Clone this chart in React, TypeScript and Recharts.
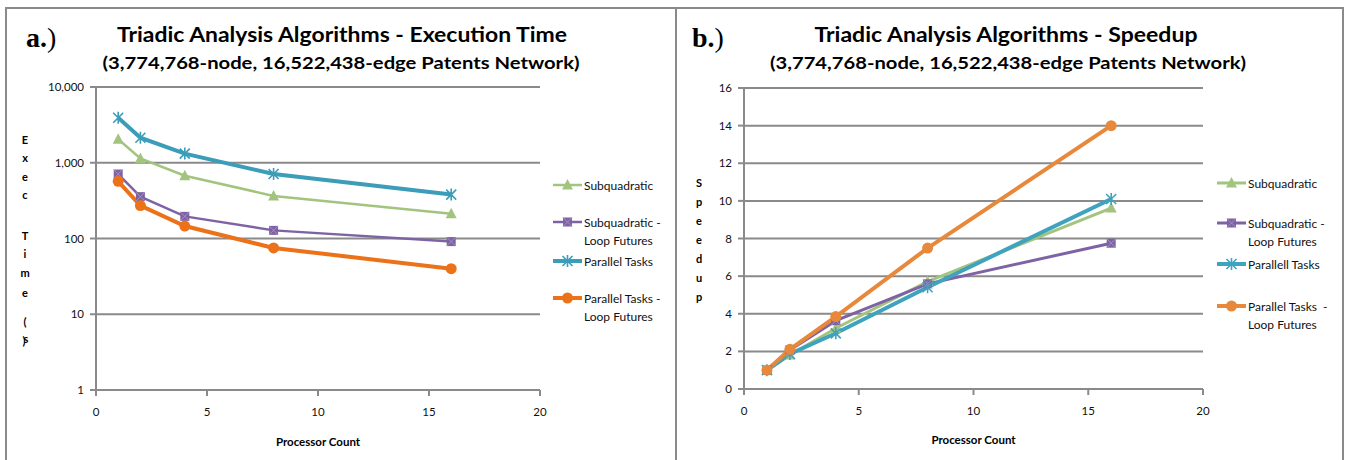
import React from 'react';
import { LineChart, Line, XAxis, YAxis, CartesianGrid } from 'recharts';

// processor counts on the x axis
const processors = [1, 2, 4, 8, 16];

// execution time in seconds (panel a, log scale)
const timeSubquadratic = [2040, 1140, 675, 365, 212];
const timeSubquadraticLF = [710, 357, 196, 128, 91];
const timeParallel = [3920, 2140, 1320, 710, 380];
const timeParallelLF = [568, 272, 146, 75, 40];

// speedup (panel b)
const speedSubquadratic = [1, 1.81, 3.23, 5.71, 9.62];
const speedSubquadraticLF = [1, 2.07, 3.63, 5.59, 7.75];
const speedParallel = [1, 1.86, 2.96, 5.41, 10.1];
const speedParallelLF = [1, 2.11, 3.85, 7.49, 14.0];

const xTicks = [0, 5, 10, 15, 20];
const timeTicks = [1, 10, 100, 1000, 10000];
const speedTicks = [0, 2, 4, 6, 8, 10, 12, 14, 16];

const legendA = [['Subquadratic'], ['Subquadratic -', 'Loop Futures'], ['Parallel Tasks'], ['Parallel Tasks -', 'Loop Futures']];
const legendB = [['Subquadratic'], ['Subquadratic -', 'Loop Futures'], ['Parallell Tasks'], ['Parallel Tasks  -', 'Loop Futures']];

const timeRows = processors.map((p, i) => ({
  p,
  sub: timeSubquadratic[i],
  subLF: timeSubquadraticLF[i],
  par: timeParallel[i],
  parLF: timeParallelLF[i],
}));

const speedRows = processors.map((p, i) => ({
  p,
  sub: speedSubquadratic[i],
  subLF: speedSubquadraticLF[i],
  par: speedParallel[i],
  parLF: speedParallelLF[i],
}));

const GRID = '#8a8a8a';
const FONT = 'Lato, "Liberation Sans", sans-serif';

type Kind = 'triangle' | 'square' | 'star' | 'circle';

const styleA = [
  { key: 'sub', kind: 'triangle' as Kind, color: '#A3C47E', width: 2.5 },
  { key: 'subLF', kind: 'square' as Kind, color: '#7E63A4', width: 2.5 },
  { key: 'par', kind: 'star' as Kind, color: '#3B9DB8', width: 4 },
  { key: 'parLF', kind: 'circle' as Kind, color: '#EC7219', width: 4 },
];

const styleB = [
  { key: 'sub', kind: 'triangle' as Kind, color: '#A3C47E', width: 3 },
  { key: 'subLF', kind: 'square' as Kind, color: '#7E63A4', width: 3 },
  { key: 'par', kind: 'star' as Kind, color: '#3FA3BE', width: 4 },
  { key: 'parLF', kind: 'circle' as Kind, color: '#E8883A', width: 4 },
];

function Marker({ kind, cx, cy, color }: { kind: Kind; cx: number; cy: number; color: string }) {
  if (cx == null || cy == null) return <g />;
  if (kind === 'triangle') {
    return <polygon points={`${cx},${cy - 6} ${cx - 5.5},${cy + 4.5} ${cx + 5.5},${cy + 4.5}`} fill={color} />;
  }
  if (kind === 'square') {
    return (
      <g>
        <rect x={cx - 4.5} y={cy - 4.5} width={9} height={9} fill={color} />
        <path d={`M${cx - 4.5},${cy - 4.5}L${cx + 4.5},${cy + 4.5}M${cx - 4.5},${cy + 4.5}L${cx + 4.5},${cy - 4.5}`} stroke="#A48FC4" strokeWidth={1} />
      </g>
    );
  }
  if (kind === 'star') {
    return (
      <path
        d={`M${cx - 5},${cy - 5}L${cx + 5},${cy + 5}M${cx - 5},${cy + 5}L${cx + 5},${cy - 5}M${cx},${cy - 6}L${cx},${cy + 6}`}
        stroke={color}
        strokeWidth={1.6}
        fill="none"
      />
    );
  }
  return <circle cx={cx} cy={cy} r={5.5} fill={color} />;
}

const makeDot = (kind: Kind, color: string) => (props: any) => (
  <Marker key={`d-${props.index}`} kind={kind} cx={props.cx} cy={props.cy} color={color} />
);

function StackedLetters({ x, items }: { x: number; items: [string, number, number?][] }) {
  return (
    <g>
      {items.map(([ch, y, dx], i) => (
        <text key={i} x={x + (dx || 0)} y={y} textAnchor="middle" dominantBaseline="central" fontFamily={FONT} fontWeight="bold" fontSize={11} fill="#000">
          {ch}
        </text>
      ))}
    </g>
  );
}

const axisProps = {
  stroke: GRID,
  strokeWidth: 2,
  tickLine: { stroke: GRID, strokeWidth: 2 },
  tick: { fill: '#111', fontSize: 11.5, fontFamily: FONT },
  tickSize: 6,
};

function xTitle(yPos: number) {
  return (props: any) => {
    const vb = props.viewBox;
    return (
      <text x={vb.x + vb.width / 2} y={yPos} textAnchor="middle" dominantBaseline="central" fontFamily={FONT} fontWeight="bold" fontSize={11.5} fill="#000">
        Processor Count
      </text>
    );
  };
}

function Legend({ x, items, series, ys }: { x: number; items: string[][]; series: typeof styleA; ys: number[] }) {
  return (
    <g>
      {items.map((lines, i) => {
        const s = series[i];
        const y = ys[i];
        return (
          <g key={i}>
            <line x1={x} x2={x + 29} y1={y} y2={y} stroke={s.color} strokeWidth={s.width} />
            <Marker kind={s.kind} cx={x + 14.5} cy={y} color={s.color} />
            {lines.map((t, j) => (
              <text key={j} x={x + 31} y={y + j * 18} dominantBaseline="central" fontFamily={FONT} fontSize={12} fill="#111" style={{ whiteSpace: 'pre' }}>
                {t}
              </text>
            ))}
          </g>
        );
      })}
    </g>
  );
}

export default function App() {
  return (
    <div style={{ position: 'absolute', left: 0, top: 0, width: 1346, height: 460, background: '#fff', overflow: 'hidden' }}>
      <div style={{ position: 'absolute', left: 0, top: 0 }}>
        <LineChart width={680} height={460} data={timeRows} margin={{ top: 87, right: 140, bottom: 40, left: 56 }}>
          <CartesianGrid vertical={false} stroke={GRID} strokeWidth={2} />
          <XAxis
            dataKey="p"
            type="number"
            domain={[0, 20]}
            ticks={xTicks}
            height={30}
            tickMargin={12}
            {...axisProps}
            label={{ content: xTitle(441) }}
          />
          <YAxis
            scale="log"
            domain={[1, 10000]}
            ticks={timeTicks}
            allowDataOverflow
            width={40}
            tickMargin={6}
            tickFormatter={(v: number) => v.toLocaleString('en-US')}
            {...axisProps}
          />
          {styleA.map((s) => (
            <Line
              key={s.key}
              dataKey={s.key}
              stroke={s.color}
              strokeWidth={s.width}
              dot={makeDot(s.kind, s.color)}
              activeDot={false}
              isAnimationActive={false}
            />
          ))}
        </LineChart>
      </div>
      <div style={{ position: 'absolute', left: 680, top: 0 }}>
        <LineChart width={666} height={460} data={speedRows} margin={{ top: 88, right: 143, bottom: 41, left: 34 }}>
          <CartesianGrid vertical={false} stroke={GRID} strokeWidth={2} />
          <XAxis
            dataKey="p"
            type="number"
            domain={[0, 20]}
            ticks={xTicks}
            height={30}
            tickMargin={12}
            {...axisProps}
            label={{ content: xTitle(439) }}
          />
          <YAxis domain={[0, 16]} ticks={speedTicks} width={30} tickMargin={6} {...axisProps} />
          {styleB.map((s) => (
            <Line
              key={s.key}
              dataKey={s.key}
              stroke={s.color}
              strokeWidth={s.width}
              dot={makeDot(s.kind, s.color)}
              activeDot={false}
              isAnimationActive={false}
            />
          ))}
        </LineChart>
      </div>
      <svg width={1346} height={460} style={{ position: 'absolute', left: 0, top: 0, pointerEvents: 'none' }}>
        <path d="M6,470V8H1343V470M676,8V470" stroke="#8a8a8a" strokeWidth={2} fill="none" />
        <text x={26} y={47} fontFamily='"Liberation Serif", serif' fontSize={28} fill="#000">
          <tspan fontWeight="bold">a.</tspan>
          <tspan>)</tspan>
        </text>
        <text x={692} y={47} fontFamily='"Liberation Serif", serif' fontSize={28} fill="#000">
          <tspan fontWeight="bold">b.</tspan>
          <tspan>)</tspan>
        </text>
        <text x={342} y={42} textAnchor="middle" fontFamily={FONT} fontWeight="bold" fontSize={20} textLength={450} lengthAdjust="spacingAndGlyphs">
          Triadic Analysis Algorithms - Execution Time
        </text>
        <text x={341} y={69} textAnchor="middle" fontFamily={FONT} fontWeight="bold" fontSize={17} textLength={477} lengthAdjust="spacingAndGlyphs">
          (3,774,768-node, 16,522,438-edge Patents Network)
        </text>
        <text x={1006} y={42} textAnchor="middle" fontFamily={FONT} fontWeight="bold" fontSize={20} textLength={383} lengthAdjust="spacingAndGlyphs">
          Triadic Analysis Algorithms - Speedup
        </text>
        <text x={1008} y={69} textAnchor="middle" fontFamily={FONT} fontWeight="bold" fontSize={17} textLength={476} lengthAdjust="spacingAndGlyphs">
          (3,774,768-node, 16,522,438-edge Patents Network)
        </text>
        <StackedLetters
          x={25}
          items={[
            ['E', 139], ['x', 157], ['e', 176], ['c', 194],
            ['T', 235], ['i', 253], ['m', 272], ['e', 292],
            ['(', 321], ['s', 338, 1], [')', 340, -1],
          ]}
        />
        <StackedLetters
          x={699}
          items={[['S', 182], ['p', 201], ['e', 220], ['e', 239], ['d', 258], ['u', 277], ['p', 296]]}
        />
        <Legend x={553} items={legendA} series={styleA} ys={[185, 222, 261, 298]} />
        <Legend x={1217} items={legendB} series={styleB} ys={[183, 223, 264, 306]} />
      </svg>
    </div>
  );
}
